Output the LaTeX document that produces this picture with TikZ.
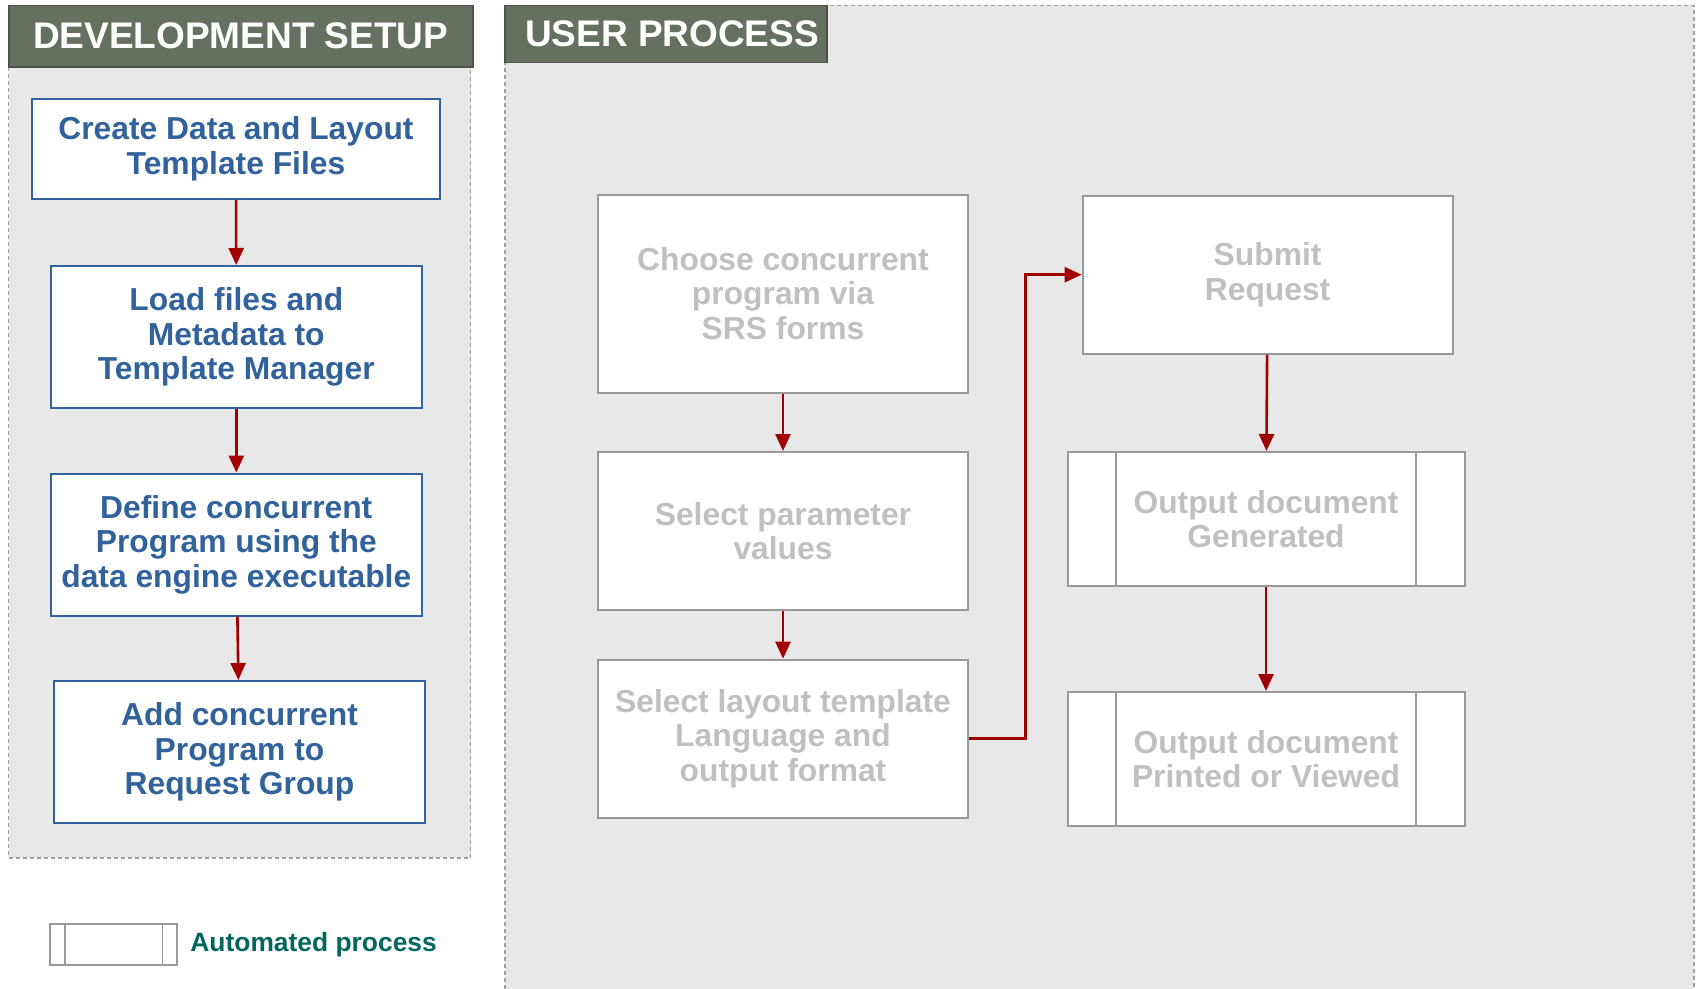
\documentclass[tikz,border=0pt]{standalone}
\usepackage{fontspec}
\setmainfont{Liberation Sans}
\usepackage{tikz}
\usetikzlibrary{arrows.meta}
\usetikzlibrary{positioning}

\definecolor{hdrgreen}{HTML}{667060}
\definecolor{panelgray}{HTML}{E8E8E8}
\definecolor{dashgray}{HTML}{A0A0A0}
\definecolor{devblue}{HTML}{31629B}
\definecolor{boxgray}{HTML}{999999}
\definecolor{txtgray}{HTML}{C0C0C0}
\definecolor{arrowred}{HTML}{A00000}
\definecolor{legendteal}{HTML}{00665E}

\begin{document}
\begin{tikzpicture}[x=0.5pt,y=-0.5pt,
  header/.style={fill=hdrgreen,draw=hdrgreen!75!black,line width=0.8pt,text=white,
    font=\fontsize{18.5}{22}\selectfont\bfseries,inner sep=0pt},
  devbox/.style={draw=devblue,line width=1pt,fill=white,text=devblue,align=center,
    font=\fontsize{15.9}{17.3}\selectfont\bfseries,inner sep=0pt},
  userbox/.style={draw=boxgray,line width=1pt,fill=white,text=txtgray,align=center,
    font=\fontsize{15.9}{17.3}\selectfont\bfseries,inner sep=0pt},
  autobox/.style={userbox,path picture={
      \draw[boxgray,line width=0.7pt]
        ([xshift=#1]path picture bounding box.north west) -- ([xshift=#1]path picture bounding box.south west)
        ([xshift=-#1]path picture bounding box.north east) -- ([xshift=-#1]path picture bounding box.south east);}},
  panel/.style={fill=panelgray},
  panelline/.style={dashgray,line width=0.6pt,dash pattern=on 2pt off 1.5pt},
  flow/.style={arrowred,line width=1.3pt,-{Triangle[width=7.5pt,length=8.5pt]}}]

  \useasboundingbox (0,0) rectangle (1696,989);

  % panels
  \fill[panel] (8.7,67) rectangle (470.5,858);
  \draw[panelline] (8.7,67) rectangle (470.5,858);
  \fill[panel] (505,5.4) rectangle (1694,989);
  \draw[panelline] (505,989) -- (505,5.4) -- (1694,5.4) -- (1694,989);

  \node[header,minimum width=232pt,minimum height=30.8pt] (devhdr) at (240.7,36.2) {DEVELOPMENT SETUP};
  \node[header,minimum width=161pt,minimum height=28.6pt] (userhdr) at (666,34) {\hspace{6pt}USER PROCESS};

  % development setup
  \node[devbox,minimum width=204pt,minimum height=50pt] (d1) at (236,149)
    {Create Data and Layout\\Template Files};
  \node[devbox,minimum width=185.5pt,minimum height=71pt] (d2) at (236.3,337)
    {Load files and\\Metadata to\\Template Manager};
  \node[devbox,minimum width=185.5pt,minimum height=71pt] (d3) at (236.3,544.5)
    {Define concurrent\\Program using the\\data engine executable};
  \node[devbox,minimum width=185.5pt,minimum height=71pt] (d4) at (239.5,752)
    {Add concurrent\\Program to\\Request Group};

  \draw[flow] (d1) -- (d2);
  \draw[flow] (d2) -- (d3);
  \draw[flow] (d3) -- (d4);

  % user process
  \node[userbox,minimum width=185pt,minimum height=99pt] (u1) at (783,293.6)
    {Choose concurrent\\program via\\SRS forms};
  \node[userbox,minimum width=185pt,minimum height=79pt] (u2) at (783,531)
    {Select parameter\\values};
  \node[userbox,minimum width=185pt,minimum height=79pt] (u3) at (783,738.7)
    {Select layout template\\Language and\\output format};
  \node[userbox,minimum width=185pt,minimum height=79pt] (u4) at (1267.6,274.7)
    {Submit\\Request};
  \node[autobox=24.25pt,minimum width=198.5pt,minimum height=67pt] (u5) at (1266,519)
    {Output document\\Generated};
  \node[autobox=24.25pt,minimum width=198.5pt,minimum height=67pt] (u6) at (1266,759)
    {Output document\\Printed or Viewed};

  \draw[flow] (u1) -- (u2);
  \draw[flow] (u2) -- (u3);
  \coordinate (bend) at (1025.4,738.7);
  \draw[flow] (u3.east) -- (bend) |- (u4.west);
  \draw[flow] (u4) -- (u5);
  \draw[flow] (u5) -- (u6);

  % legend
  \node[autobox=7.5pt,minimum width=63.8pt,minimum height=20.5pt] (legend) at (113.6,944.2) {};
  \node[right=5.8pt of legend,inner sep=0pt,text=legendteal,font=\fontsize{13.2}{16}\selectfont\bfseries]
    (legendtxt) {Automated process};

\end{tikzpicture}
\end{document}
